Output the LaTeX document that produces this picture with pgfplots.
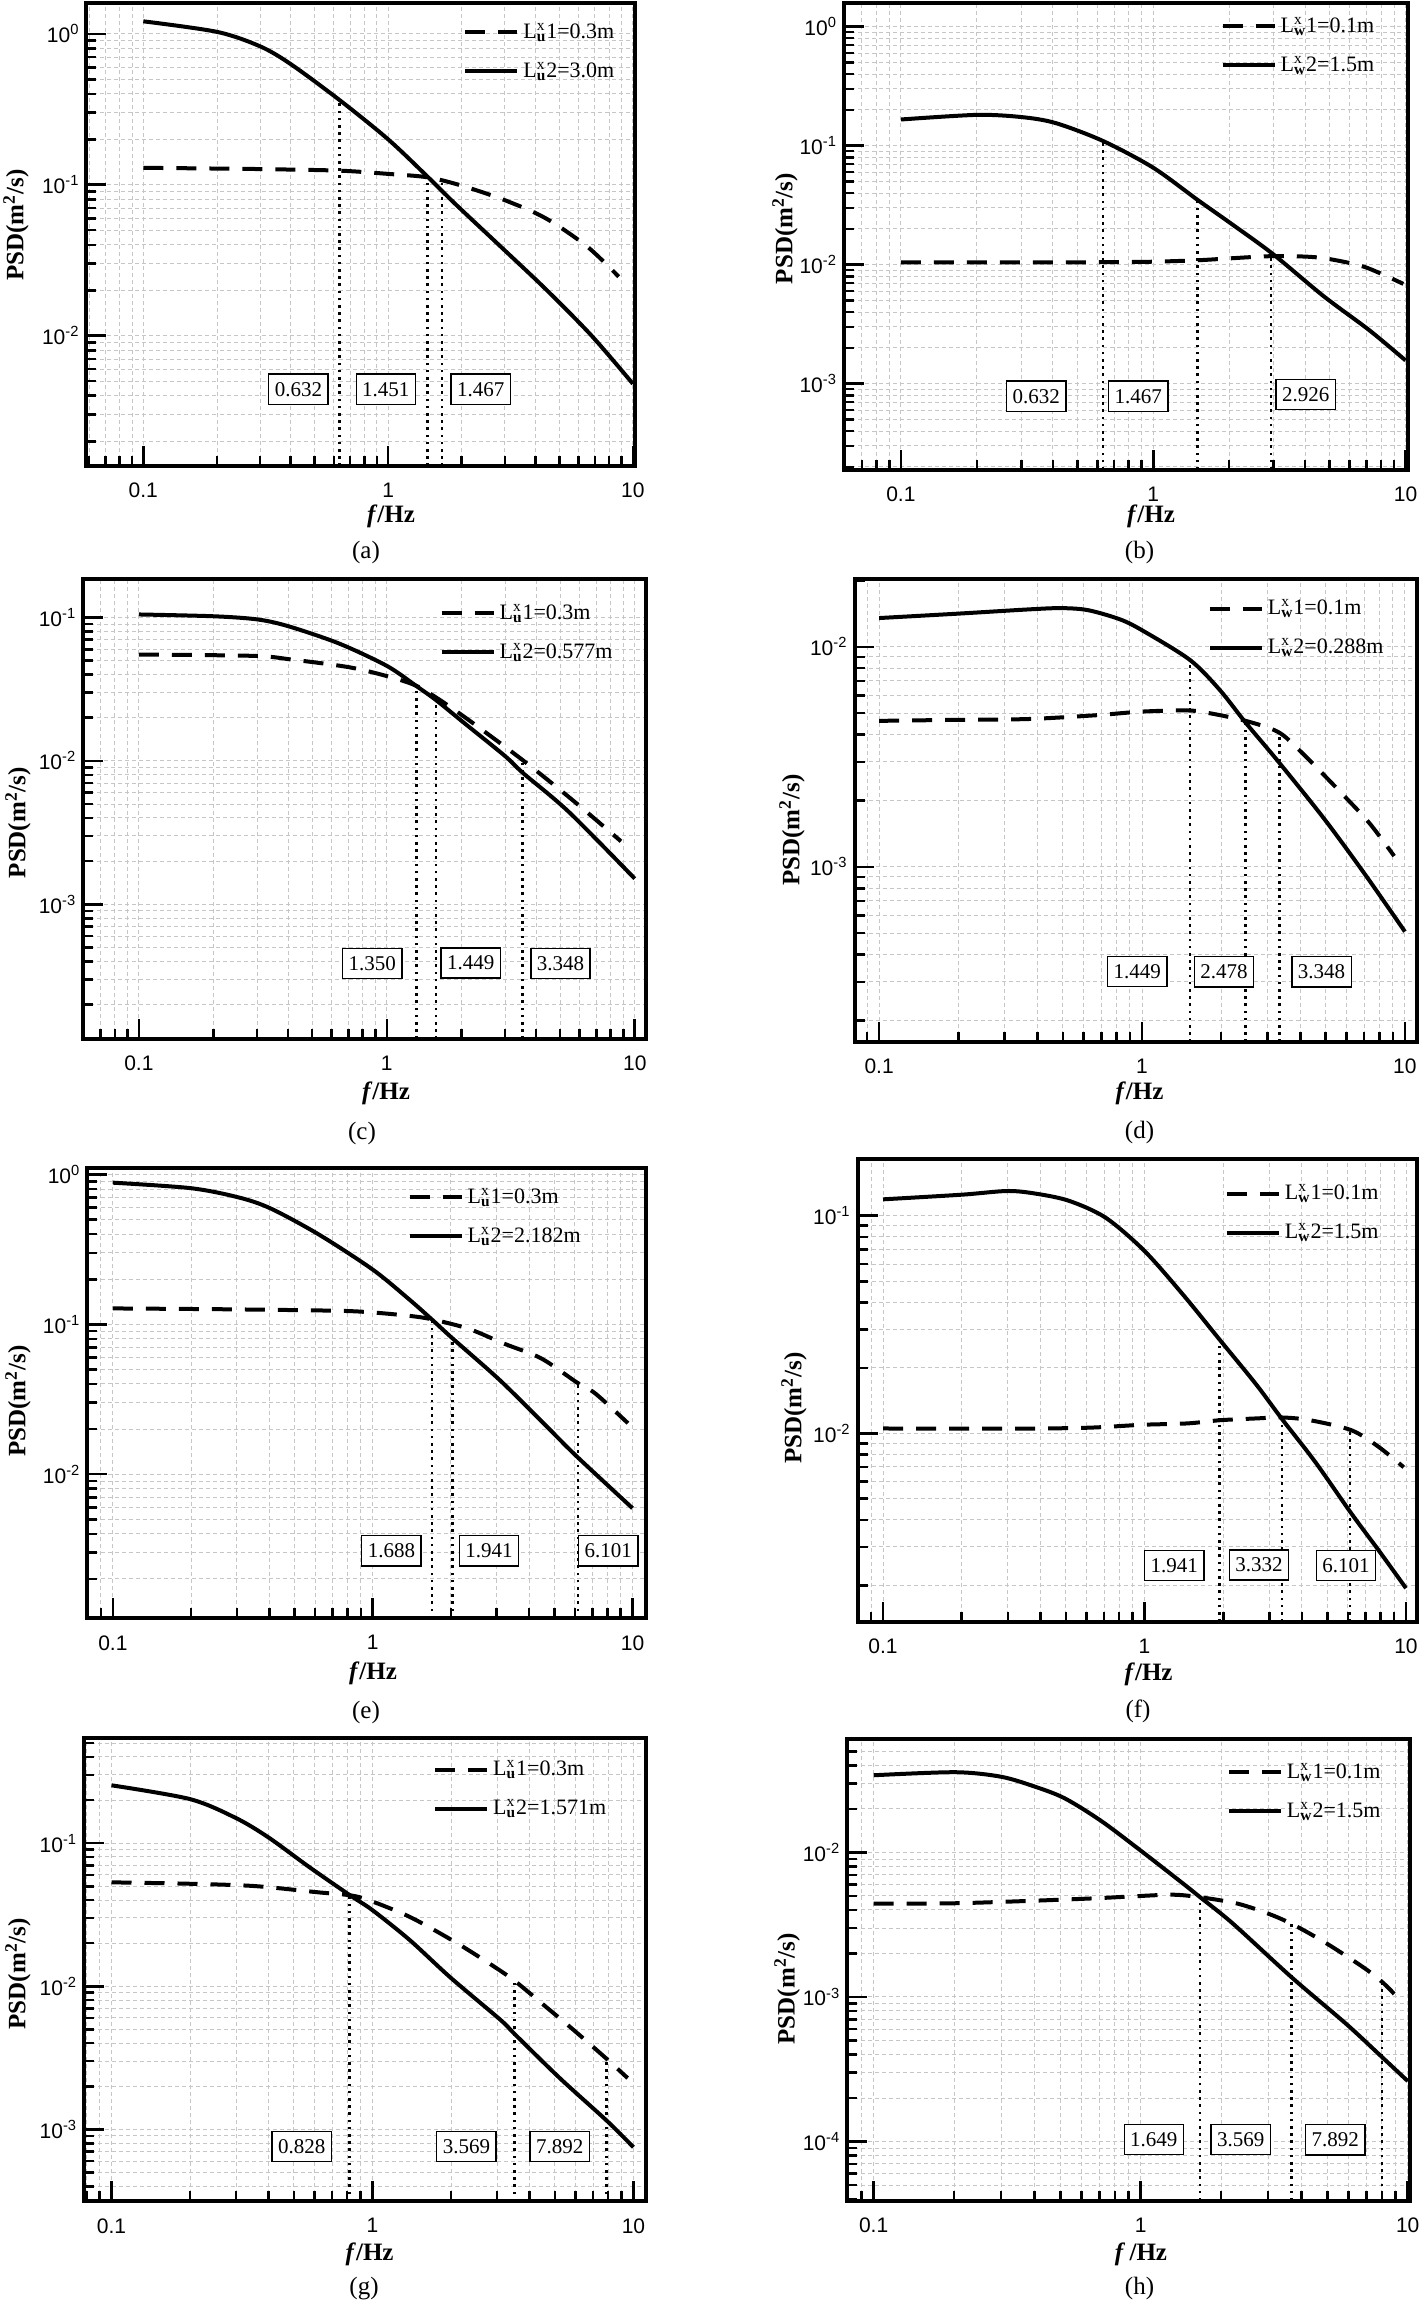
\documentclass[border=0pt]{standalone}
\usepackage{pgfplots}
\pgfplotsset{compat=1.18}
\usepackage{fontspec}
\setmainfont{Liberation Serif}
\setsansfont{Liberation Sans}
\newcommand\Lux{L\rlap{\textsuperscript{x}}\textsubscript{\textbf{u}}}
\newcommand\Lwx{L\rlap{\textsuperscript{x}}\textsubscript{\textbf{w}}}
\tikzset{
 solidc/.style={black, line width=2pt, smooth},
 dashc/.style={black, line width=2pt, dash pattern=on 10pt off 6.5pt, smooth},
 dotl/.style={black, line width=1.3pt, dash pattern=on 1.3pt off 2.3pt},
 lab/.style={draw, line width=0.7pt, fill=white, inner xsep=3pt, inner ysep=4pt, font=\fontsize{10.5}{12}\selectfont},
}
\pgfplotsset{
  legend image code/.code={\draw[#1] (0pt,0pt) -- (26pt,0pt);},
  scale only axis,
  axis line style={line width=2pt},
  tick align=inside, tick pos=left,
  major tick length=10pt, minor tick length=5pt,
  tick style={black, line width=1.3pt},
  major grid style={gray!45, line width=0.5pt, dash pattern=on 2pt off 1.5pt},
  minor grid style={gray!45, line width=0.5pt, dash pattern=on 2pt off 1.5pt},
  tick label style={font=\sffamily\fontsize{10.5}{12}\selectfont},
  xticklabel style={yshift=-5pt},
  legend style={draw=none, fill=none, anchor=north east, font=\fontsize{11}{13}\selectfont,
    row sep=6.5pt, inner sep=1pt},
  legend cell align=left,
  minor xtick={0.06,0.07,0.08,0.09,0.2,0.3,0.4,0.5,0.6,0.7,0.8,0.9,2,3,4,5,6,7,8,9},
  minor ytick={0.00002,0.00003,0.00004,0.00005,0.00006,0.00007,0.00008,0.00009,0.0002,0.0003,0.0004,0.0005,0.0006,0.0007,0.0008,0.0009,0.002,0.003,0.004,0.005,0.006,0.007,0.008,0.009,0.02,0.03,0.04,0.05,0.06,0.07,0.08,0.09,0.2,0.3,0.4,0.5,0.6,0.7,0.8,0.9,2,3},
}
\begin{document}
\begin{tikzpicture}
\path[use as bounding box] (0,0) rectangle (709.5pt,-1152.5pt);

% (a)
\begin{axis}[xmode=log, ymode=log, anchor=south west, clip=false, grid=both,
 xtick={0.1,1,10}, xticklabels={0.1,1,10},
 at={(43.25pt,-233pt)}, width=274.25pt, height=231.5pt,
 xmin=0.0586, xmax=10.2, ymin=0.00137, ymax=1.6,
 ytick={0.01,0.1,1}, yticklabels={10\textsuperscript{-2},10\textsuperscript{-1},10\textsuperscript{0}},
 legend style={at={(0.974,0.97)}}]
\addplot[dashc] coordinates {(0.1,0.1295)(0.2,0.128)(0.3,0.127)(0.632,0.124)(1.0,0.118)(1.45,0.112)(2.0,0.0986)(3.0,0.079)(4.4,0.060)(6.5,0.039)(8.75,0.0246)};
\addlegendentry{\Lux1=0.3m}
\addplot[solidc] coordinates {(0.1,1.21)(0.2,1.03)(0.3,0.826)(0.4,0.63)(0.632,0.365)(1.0,0.2)(1.45,0.113)(1.875,0.075)(2.88,0.039)(4.41,0.0203)(6.78,0.0100)(10,0.0048)};
\addlegendentry{\Lux2=3.0m}
\addplot[dotl, forget plot] coordinates {(0.632,0.00137)(0.632,0.365)};
\addplot[dotl, forget plot] coordinates {(1.451,0.00137)(1.451,0.113)};
\addplot[dotl, forget plot] coordinates {(1.66,0.00137)(1.66,0.108)};
\node[lab] at (axis cs:0.43,0.00442) {0.632};
\node[lab] at (axis cs:0.979,0.00442) {1.451};
\node[lab] at (axis cs:2.39,0.00442) {1.467};
\end{axis}

% (b)
\begin{axis}[xmode=log, ymode=log, anchor=south west, clip=false, grid=both,
 xtick={0.1,1,10}, xticklabels={0.1,1,10},
 at={(422pt,-234.8pt)}, width=281.85pt, height=233.3pt,
 xmin=0.0595, xmax=10.2, ymin=0.00019, ymax=1.58,
 ytick={0.001,0.01,0.1,1}, yticklabels={10\textsuperscript{-3},10\textsuperscript{-2},10\textsuperscript{-1},10\textsuperscript{0}},
 legend style={at={(0.952,0.983)}}]
\addplot[dashc] coordinates {(0.1,0.01047)(0.3,0.01047)(0.632,0.0105)(1,0.0106)(1.5,0.0109)(2.0,0.0113)(2.93,0.0118)(4.0,0.0117)(4.94,0.0112)(6.89,0.00957)(9.8,0.0069)};
\addlegendentry{\Lwx1=0.1m}
\addplot[solidc] coordinates {(0.1,0.166)(0.2,0.1815)(0.3,0.174)(0.41,0.155)(0.632,0.1096)(1,0.0653)(1.5,0.035)(2.07,0.0216)(2.98,0.0123)(4.74,0.00543)(7.18,0.00282)(10,0.00157)};
\addlegendentry{\Lwx2=1.5m}
\addplot[dotl, forget plot] coordinates {(0.632,0.00019)(0.632,0.109)};
\addplot[dotl, forget plot] coordinates {(1.5,0.00019)(1.5,0.035)};
\addplot[dotl, forget plot] coordinates {(2.93,0.00019)(2.93,0.0118)};
\node[lab] at (axis cs:0.344,0.000785) {0.632};
\node[lab] at (axis cs:0.872,0.000785) {1.467};
\node[lab] at (axis cs:4.02,0.00081) {2.926};
\end{axis}

% (c)
\begin{axis}[xmode=log, ymode=log, anchor=south west, clip=false, grid=both,
 xtick={0.1,1,10}, xticklabels={0.1,1,10},
 at={(41.65pt,-519.5pt)}, width=281.35pt, height=230.25pt,
 xmin=0.0597, xmax=11.1, ymin=0.000115, ymax=0.187,
 ytick={0.001,0.01,0.1}, yticklabels={10\textsuperscript{-3},10\textsuperscript{-2},10\textsuperscript{-1}},
 legend style={at={(0.952,0.958)}}]
\addplot[dashc] coordinates {(0.1,0.0552)(0.29,0.054)(0.41,0.051)(0.71,0.0449)(1.03,0.0385)(1.31,0.0335)(1.59,0.0275)(2.12,0.0195)(3.54,0.0101)(5.65,0.00528)(8.8,0.00275)};
\addlegendentry{\Lux1=0.3m}
\addplot[solidc] coordinates {(0.1,0.105)(0.2,0.102)(0.3,0.097)(0.4,0.087)(0.64,0.066)(1,0.046)(1.315,0.0333)(1.59,0.0263)(2.05,0.0184)(3.0,0.0108)(3.54,0.00824)(5.42,0.00441)(10,0.00151)};
\addlegendentry{\Lux2=0.577m}
\addplot[dotl, forget plot] coordinates {(1.315,0.000115)(1.315,0.0328)};
\addplot[dotl, forget plot] coordinates {(1.58,0.000115)(1.58,0.028)};
\addplot[dotl, forget plot] coordinates {(3.52,0.000115)(3.52,0.0101)};
\node[lab] at (axis cs:0.874,0.000386) {1.350};
\node[lab] at (axis cs:2.18,0.00039) {1.449};
\node[lab] at (axis cs:5.02,0.000386) {3.348};
\end{axis}

% (d)
\begin{axis}[xmode=log, ymode=log, anchor=south west, clip=false, grid=both,
 xtick={0.1,1,10}, xticklabels={0.1,1,10},
 at={(427.25pt,-521pt)}, width=281.15pt, height=231.4pt,
 xmin=0.0806, xmax=11.1, ymin=0.00016, ymax=0.0203,
 ytick={0.001,0.01}, yticklabels={10\textsuperscript{-3},10\textsuperscript{-2}},
 legend style={at={(0.952,0.97)}}]
\addplot[dashc] coordinates {(0.1,0.00461)(0.2,0.00466)(0.37,0.0047)(0.67,0.00489)(1,0.00508)(1.49,0.00514)(1.8,0.0050)(2.48,0.00461)(3.3,0.0041)(4.04,0.00332)(5.55,0.002255)(7.3,0.00159)(9.1,0.00112)};
\addlegendentry{\Lwx1=0.1m}
\addplot[solidc] coordinates {(0.1,0.01352)(0.2,0.01416)(0.37,0.0148)(0.49,0.0150)(0.62,0.0147)(0.82,0.01337)(1,0.0119)(1.52,0.00873)(1.97,0.0064)(2.48,0.00452)(3.3,0.00301)(4.92,0.00166)(7.05,0.000925)(10,0.000508)};
\addlegendentry{\Lwx2=0.288m}
\addplot[dotl, forget plot] coordinates {(1.52,0.00016)(1.52,0.00873)};
\addplot[dotl, forget plot] coordinates {(2.48,0.00016)(2.48,0.00452)};
\addplot[dotl, forget plot] coordinates {(3.33,0.00016)(3.33,0.00403)};
\node[lab] at (axis cs:0.96,0.000334) {1.449};
\node[lab] at (axis cs:2.05,0.000334) {2.478};
\node[lab] at (axis cs:4.82,0.000334) {3.348};
\end{axis}

% (e)
\begin{axis}[xmode=log, ymode=log, anchor=south west, clip=false, grid=both,
 xtick={0.1,1,10}, xticklabels={0.1,1,10},
 at={(43.7pt,-809.2pt)}, width=279.45pt, height=225.35pt,
 xmin=0.0798, xmax=11.3, ymin=0.00109, ymax=1.11,
 ytick={0.01,0.1,1}, yticklabels={10\textsuperscript{-2},10\textsuperscript{-1},10\textsuperscript{0}},
 legend style={at={(0.894,0.969)}}]
\addplot[dashc] coordinates {(0.1,0.1277)(0.276,0.126)(0.73,0.1232)(1,0.12)(1.38,0.114)(1.69,0.108)(2.34,0.0934)(3.2,0.0744)(4.45,0.0593)(6.1,0.041)(7.2,0.0345)(9.6,0.0219)};
\addlegendentry{\Lux1=0.3m}
\addplot[solidc] coordinates {(0.1,0.882)(0.2,0.81)(0.305,0.703)(0.405,0.593)(0.62,0.398)(1,0.232)(1.38,0.147)(1.69,0.1077)(2.03,0.0805)(3.1,0.0421)(4.65,0.021)(6.1,0.01314)(10,0.00593)};
\addlegendentry{\Lux2=2.182m}
\addplot[dotl, forget plot] coordinates {(1.69,0.00109)(1.69,0.108)};
\addplot[dotl, forget plot] coordinates {(2.03,0.00109)(2.03,0.077)};
\addplot[dotl, forget plot] coordinates {(6.17,0.00109)(6.17,0.042)};
\node[lab] at (axis cs:1.18,0.00308) {1.688};
\node[lab] at (axis cs:2.8,0.00308) {1.941};
\node[lab] at (axis cs:8.07,0.00308) {6.101};
\end{axis}

% (f)
\begin{axis}[xmode=log, ymode=log, anchor=south west, clip=false, grid=both,
 xtick={0.1,1,10}, xticklabels={0.1,1,10},
 at={(428.85pt,-810.85pt)}, width=279.55pt, height=231.25pt,
 xmin=0.080, xmax=11.0, ymin=0.00136, ymax=0.182,
 ytick={0.01,0.1}, yticklabels={10\textsuperscript{-2},10\textsuperscript{-1}},
 legend style={at={(0.943,0.959)}}]
\addplot[dashc] coordinates {(0.1,0.01052)(0.3,0.0105)(0.6,0.0106)(0.98,0.01094)(1.46,0.0111)(1.94,0.01148)(2.67,0.0117)(3.36,0.01182)(4.3,0.01148)(6.18,0.01033)(7.87,0.00865)(9.8,0.00698)};
\addlegendentry{\Lwx1=0.1m}
\addplot[solidc] coordinates {(0.1,0.119)(0.2,0.125)(0.3,0.130)(0.39,0.126)(0.516,0.117)(0.71,0.098)(1,0.0689)(1.41,0.0431)(1.94,0.0269)(2.67,0.0168)(3.36,0.0116)(4.49,0.0074)(6.18,0.00428)(7.87,0.00289)(10,0.00194)};
\addlegendentry{\Lwx2=1.5m}
\addplot[dotl, forget plot] coordinates {(1.94,0.00136)(1.94,0.0269)};
\addplot[dotl, forget plot] coordinates {(3.35,0.00136)(3.35,0.0118)};
\addplot[dotl, forget plot] coordinates {(6.1,0.00136)(6.1,0.0103)};
\node[lab] at (axis cs:1.3,0.00247) {1.941};
\node[lab] at (axis cs:2.74,0.00248) {3.332};
\node[lab] at (axis cs:5.89,0.00247) {6.101};
\end{axis}

% (g)
\begin{axis}[xmode=log, ymode=log, anchor=south west, clip=false, grid=both,
 xtick={0.1,1,10}, xticklabels={0.1,1,10},
 at={(42.1pt,-1100.65pt)}, width=281.05pt, height=231.9pt,
 xmin=0.0786, xmax=11.2, ymin=0.000314, ymax=0.547,
 ytick={0.001,0.01,0.1}, yticklabels={10\textsuperscript{-3},10\textsuperscript{-2},10\textsuperscript{-1}},
 legend style={at={(0.94,0.964)}}]
\addplot[dashc] coordinates {(0.1,0.0532)(0.2,0.052)(0.354,0.0501)(0.62,0.0453)(0.82,0.0432)(0.97,0.0399)(1.39,0.0305)(2.07,0.0204)(2.84,0.0142)(3.52,0.01084)(4.64,0.00713)(5.88,0.00497)(7.94,0.00308)(9.5,0.00228)};
\addlegendentry{\Lux1=0.3m}
\addplot[solidc] coordinates {(0.1,0.2535)(0.2,0.203)(0.3,0.1496)(0.4,0.1094)(0.574,0.0678)(0.82,0.0432)(1,0.034)(1.39,0.021)(1.99,0.0115)(3.1,0.0058)(3.52,0.0046)(5.22,0.00228)(7.94,0.00114)(10,0.00075)};
\addlegendentry{\Lux2=1.571m}
\addplot[dotl, forget plot] coordinates {(0.817,0.000314)(0.817,0.0432)};
\addplot[dotl, forget plot] coordinates {(3.5,0.000314)(3.5,0.0108)};
\addplot[dotl, forget plot] coordinates {(7.9,0.000314)(7.9,0.0031)};
\node[lab] at (axis cs:0.536,0.000759) {0.828};
\node[lab] at (axis cs:2.29,0.000759) {3.569};
\node[lab] at (axis cs:5.22,0.000759) {7.892};
\end{axis}

% (h)
\begin{axis}[xmode=log, ymode=log, anchor=south west, clip=false, grid=both,
 xtick={0.1,1,10}, xticklabels={0.1,1,10},
 at={(423.65pt,-1100.3pt)}, width=281.35pt, height=230.95pt,
 xmin=0.0797, xmax=10.2, ymin=0.000039, ymax=0.0612,
 ytick={0.0001,0.001,0.01}, yticklabels={10\textsuperscript{-4},10\textsuperscript{-3},10\textsuperscript{-2}},
 legend style={at={(0.959,0.961)}}]
\addplot[dashc] coordinates {(0.1,0.00443)(0.2,0.00445)(0.38,0.00462)(0.68,0.00482)(1,0.0050)(1.33,0.0051)(1.67,0.0049)(2.3,0.00443)(3.03,0.00375)(3.76,0.00314)(5.0,0.00233)(6.9,0.00158)(8.1,0.00125)(8.9,0.00105)};
\addlegendentry{\Lwx1=0.1m}
\addplot[solidc] coordinates {(0.1,0.0342)(0.202,0.0359)(0.3,0.0334)(0.4,0.0286)(0.519,0.0237)(0.71,0.01656)(1,0.0103)(1.44,0.0061)(1.67,0.0049)(2.21,0.00323)(3.68,0.001365)(5.89,0.00065)(8.0,0.000385)(10,0.000262)};
\addlegendentry{\Lwx2=1.5m}
\addplot[dotl, forget plot] coordinates {(1.67,0.000039)(1.67,0.0049)};
\addplot[dotl, forget plot] coordinates {(3.68,0.000039)(3.68,0.0032)};
\addplot[dotl, forget plot] coordinates {(8.0,0.000039)(8.0,0.00127)};
\node[lab] at (axis cs:1.12,0.000103) {1.649};
\node[lab] at (axis cs:2.37,0.000103) {3.569};
\node[lab] at (axis cs:5.35,0.000103) {7.892};
\end{axis}

\begin{scope}[x=0.5pt,y=-0.5pt]
\tikzset{xl/.style={font=\bfseries\fontsize{12.5}{14}\selectfont},
 yl/.style={rotate=90,font=\bfseries\fontsize{12.5}{14}\selectfont},
 pl/.style={font=\fontsize{12.5}{14}\selectfont}}
\node[xl] at (391,516) {\textit{f}/Hz};
\node[xl] at (1151,516) {\textit{f}/Hz};
\node[xl] at (386,1093) {\textit{f}/Hz};
\node[xl] at (1139.5,1093) {\textit{f}/Hz};
\node[xl] at (373,1673) {\textit{f}/Hz};
\node[xl] at (1148.6,1674.6) {\textit{f}/Hz};
\node[xl] at (369.6,2254.3) {\textit{f}/Hz};
\node[xl] at (1141,2254) {\textit{f}\,/Hz};
\node[yl] at (16,225) {PSD(m\textsuperscript{2}/s)};
\node[yl] at (785,228.6) {PSD(m\textsuperscript{2}/s)};
\node[yl] at (18,822.7) {PSD(m\textsuperscript{2}/s)};
\node[yl] at (792,830) {PSD(m\textsuperscript{2}/s)};
\node[yl] at (18,1401) {PSD(m\textsuperscript{2}/s)};
\node[yl] at (794,1408) {PSD(m\textsuperscript{2}/s)};
\node[yl] at (18,1973.7) {PSD(m\textsuperscript{2}/s)};
\node[yl] at (787,1988.7) {PSD(m\textsuperscript{2}/s)};
\node[pl] at (366,552) {(a)};
\node[pl] at (1139.5,552) {(b)};
\node[pl] at (362,1133.4) {(c)};
\node[pl] at (1139.5,1132.7) {(d)};
\node[pl] at (366,1712.7) {(e)};
\node[pl] at (1138,1711.6) {(f)};
\node[pl] at (364,2288) {(g)};
\node[pl] at (1139.5,2288) {(h)};
\end{scope}
\end{tikzpicture}
\end{document}
